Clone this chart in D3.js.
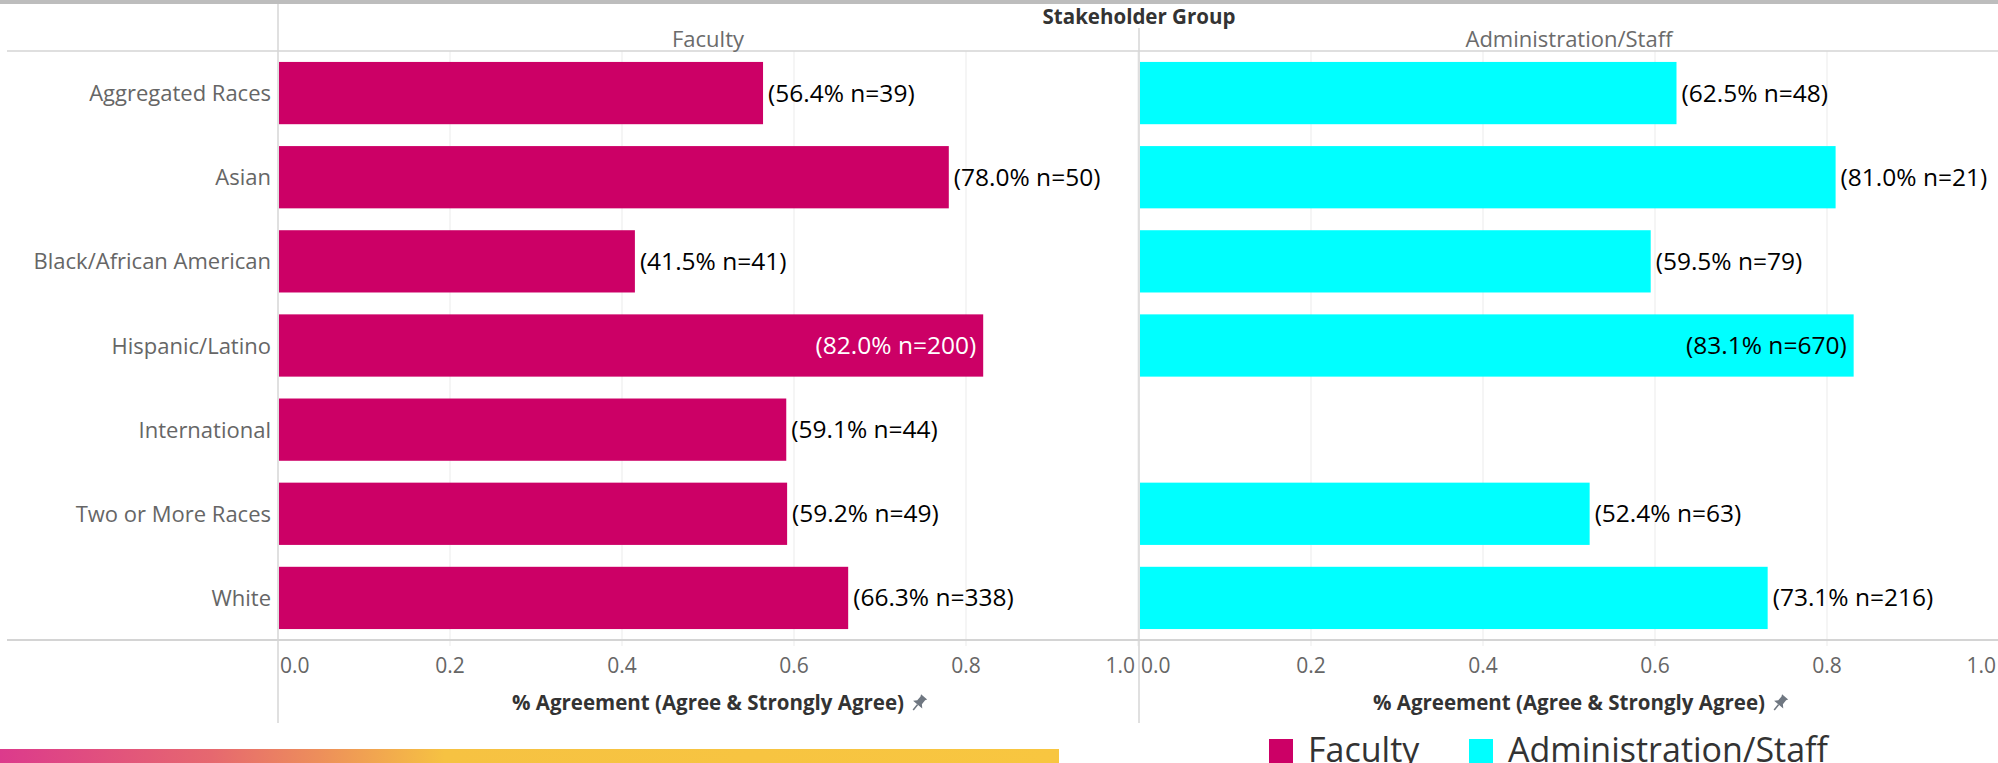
<!DOCTYPE html>
<html>
<head>
<meta charset="utf-8">
<script src="https://cdn.jsdelivr.net/npm/d3@7"></script>
<style>
  html, body { margin: 0; padding: 0; background: #fff; }
  svg { display: block; font-family: "Open Sans", sans-serif; }
</style>
</head>
<body>
<svg id="chart" width="1998" height="763"></svg>
<script>
// data
const races = ['Aggregated Races', 'Asian', 'Black/African American', 'Hispanic/Latino',
  'International', 'Two or More Races', 'White']
const groups = ['Faculty', 'Administration/Staff']
const facultyPct = [0.564, 0.780, 0.415, 0.820, 0.591, 0.592, 0.663]
const facultyN = [39, 50, 41, 200, 44, 49, 338]
const adminPct = [0.625, 0.810, 0.595, 0.831, null, 0.524, 0.731]
const adminN = [48, 21, 79, 670, null, 63, 216]
const ticks = [0, 0.2, 0.4, 0.6, 0.8, 1.0]
const colors = ['#cc0066', '#00ffff']

const W = 1998, H = 763
const svg = d3.select('#chart')

const plotTop = 51, plotBottom = 640
const paneW = 860
const paneX = [278, 1139]

const y = d3.scaleBand().domain(races).range([plotTop, plotBottom]).paddingInner(0.26).paddingOuter(0.13)
const xs = paneX.map(x0 => d3.scaleLinear().domain([0, 1]).range([x0, x0 + paneW]))

// gray band on top
svg.append('rect').attr('x', 0).attr('y', 0).attr('width', W).attr('height', 4).attr('fill', '#bdbdbd')

// gridlines
xs.forEach(x => {
  svg.append('g').selectAll('line')
    .data(ticks.slice(1))
    .enter()
    .append('line')
    .attr('x1', d => x(d)).attr('x2', d => x(d))
    .attr('y1', plotTop).attr('y2', plotBottom + 6)
    .attr('stroke', '#ebebeb').attr('stroke-width', 1)
})

// frame lines
svg.append('line').attr('x1', 7).attr('x2', W).attr('y1', plotTop).attr('y2', plotTop)
  .attr('stroke', '#d4d4d4').attr('stroke-width', 1.5)
svg.append('line').attr('x1', 7).attr('x2', W).attr('y1', plotBottom).attr('y2', plotBottom)
  .attr('stroke', '#d4d4d4').attr('stroke-width', 2)
svg.append('line').attr('x1', paneX[0]).attr('x2', paneX[0]).attr('y1', 4).attr('y2', 723)
  .attr('stroke', '#d6d6d6').attr('stroke-width', 1.5)
svg.append('line').attr('x1', paneX[1]).attr('x2', paneX[1]).attr('y1', 28).attr('y2', 723)
  .attr('stroke', '#d6d6d6').attr('stroke-width', 1.5)

// headers
svg.append('text').attr('x', paneX[1]).attr('y', 24).attr('text-anchor', 'middle')
  .attr('font-size', 20.5).attr('font-weight', 700).attr('fill', '#333')
  .text('Stakeholder Group')
groups.forEach((g, i) => {
  svg.append('text').attr('x', paneX[i] + paneW / 2).attr('y', 47).attr('text-anchor', 'middle')
    .attr('font-size', 22).attr('fill', '#6b6b6b').text(g)
})

// row labels
svg.append('g').selectAll('text')
  .data(races)
  .enter()
  .append('text')
  .attr('x', 271)
  .attr('y', d => y(d) + y.bandwidth() / 2 + 8)
  .attr('text-anchor', 'end')
  .attr('font-size', 22)
  .attr('fill', '#666')
  .text(d => d)

// bars + labels
const series = [
  races.map((r, i) => ({ race: r, v: facultyPct[i], n: facultyN[i] })),
  races.map((r, i) => ({ race: r, v: adminPct[i], n: adminN[i] }))
]
const insideAt = 0.815
const labelCol = [['#000', '#fff'], ['#000', '#000']]

series.forEach((s, k) => {
  const x = xs[k]
  const data = s.filter(d => d.v != null)
  svg.append('g').selectAll('rect')
    .data(data)
    .enter()
    .append('rect')
    .attr('x', x(0) + 1)
    .attr('y', d => y(d.race))
    .attr('width', d => x(d.v) - x(0) - 1)
    .attr('height', y.bandwidth())
    .attr('fill', colors[k])

  svg.append('g').selectAll('text')
    .data(data)
    .enter()
    .append('text')
    .attr('x', d => d.v > insideAt ? x(d.v) - 7 : x(d.v) + 5)
    .attr('y', d => y(d.race) + y.bandwidth() / 2 + 8.5)
    .attr('text-anchor', d => d.v > insideAt ? 'end' : 'start')
    .attr('font-size', 24.5)
    .attr('fill', d => d.v > insideAt ? labelCol[k][1] : labelCol[k][0])
    .text(d => `(${(d.v * 100).toFixed(1)}% n=${d.n})`)
})

// x axes
xs.forEach((x, k) => {
  svg.append('g').selectAll('text')
    .data(ticks)
    .enter()
    .append('text')
    .attr('x', (d, i) => i === 0 ? x(d) + 2 : i === ticks.length - 1 ? x(d) - 3 : x(d))
    .attr('y', 673)
    .attr('text-anchor', (d, i) => i === 0 ? 'start' : i === ticks.length - 1 ? 'end' : 'middle')
    .attr('font-size', 21)
    .attr('fill', '#666')
    .text(d => d.toFixed(1))

  const cx = paneX[k] + paneW / 2
  const t = svg.append('text').attr('x', cx).attr('y', 710).attr('text-anchor', 'middle')
    .attr('font-size', 20.5).attr('font-weight', 700).attr('fill', '#333')
    .text('% Agreement (Agree & Strongly Agree)')
  const tw = t.node().getComputedTextLength()
  // little pin icon
  const px = cx + tw / 2 + 15, py = 703
  svg.append('g')
    .attr('transform', `translate(${px},${py}) rotate(40)`)
    .call(g => {
      g.append('path').attr('d', 'M-4,-8 L4,-8 L3,-6 L3,-1 L6,2 L-6,2 L-3,-1 L-3,-6 Z').attr('fill', '#6f7781')
      g.append('line').attr('x1', 0).attr('x2', 0).attr('y1', 2).attr('y2', 9)
        .attr('stroke', '#6f7781').attr('stroke-width', 1.6)
    })
})

// gradient strip
const grad = svg.append('defs').append('linearGradient').attr('id', 'strip')
grad.selectAll('stop')
  .data([[0, '#dc3a8c'], [0.2, '#e6686f'], [0.3, '#ed8e5b'], [0.42, '#f6c242'], [1, '#f8c640']])
  .enter()
  .append('stop')
  .attr('offset', d => d[0])
  .attr('stop-color', d => d[1])
svg.append('rect').attr('x', 0).attr('y', 749).attr('width', 1059).attr('height', 14).attr('fill', 'url(#strip)')

// legend
const legX = [1269, 1469]
groups.forEach((g, i) => {
  svg.append('rect').attr('x', legX[i]).attr('y', 739).attr('width', 24).attr('height', 30).attr('fill', colors[i])
  svg.append('text').attr('x', legX[i] + 39).attr('y', 762).attr('font-size', 34).attr('fill', '#333').text(g)
})
</script>
</body>
</html>
